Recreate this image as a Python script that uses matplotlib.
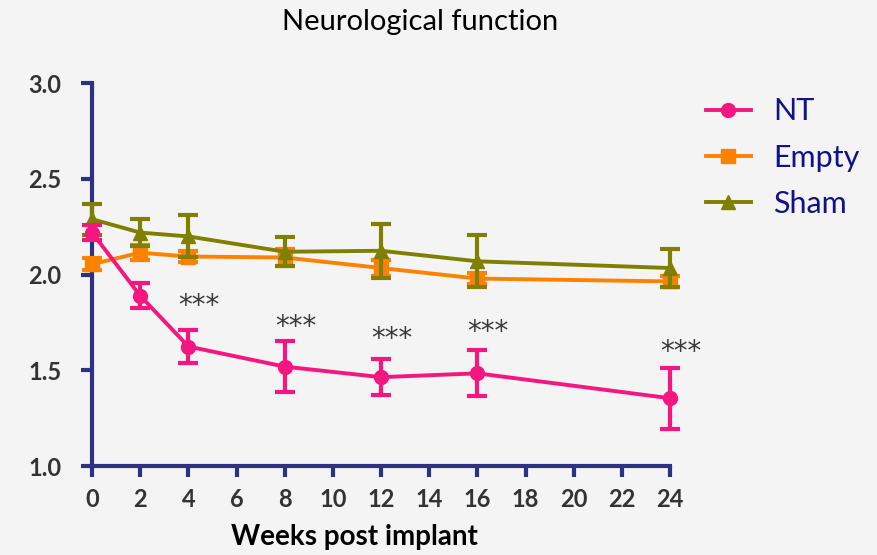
import numpy as np
import matplotlib.pyplot as plt

weeks = [0, 2, 4, 8, 12, 16, 24]

nt_mean = [2.22, 1.89, 1.625, 1.52, 1.465, 1.485, 1.355]
nt_err = [0.04, 0.065, 0.085, 0.135, 0.095, 0.12, 0.16]

empty_mean = [2.055, 2.115, 2.095, 2.09, 2.035, 1.98, 1.965]
empty_err = [0.03, 0.04, 0.03, 0.045, 0.04, 0.03, 0.03]

sham_mean = [2.29, 2.22, 2.2, 2.12, 2.125, 2.07, 2.035]
sham_err = [0.08, 0.07, 0.11, 0.075, 0.14, 0.135, 0.1]

star_weeks = [4, 8, 12, 16, 24]
star_y = [1.87, 1.76, 1.70, 1.735, 1.63]

navy = "#2e3181"
c_nt = "#f5167f"
c_empty = "#ff8100"
c_sham = "#7f7f00"

plt.rcParams["font.family"] = ["Lato", "DejaVu Sans"]

fig = plt.figure(figsize=(8.77, 5.55), dpi=100)
fig.patch.set_facecolor("#f4f4f4")
ax = fig.add_axes([0.105, 0.16, 0.659, 0.69])
ax.set_facecolor("none")

common = dict(lw=2.8, elinewidth=3, capsize=7, capthick=3, clip_on=False)
ax.errorbar(weeks, empty_mean, yerr=empty_err, color=c_empty, marker="s",
            ms=10, label="Empty", zorder=3, **common)
ax.errorbar(weeks, sham_mean, yerr=sham_err, color=c_sham, marker="^",
            ms=10, label="Sham", zorder=4, **common)
ax.errorbar(weeks, nt_mean, yerr=nt_err, color=c_nt, marker="o",
            ms=10, label="NT", zorder=5, **common)

# significance marks, lowered a bit since the glyph sits high in its box
for w, y in zip(star_weeks, star_y):
    ax.text(w + 0.45, y - 0.035, "***", ha="center", va="center", fontsize=20,
            color="#3a3a3a", family="DejaVu Sans")

ax.set_xlim(0, 24)
ax.set_ylim(1, 3)
ax.set_xticks(np.arange(0, 25, 2))
ax.set_yticks([1.0, 1.5, 2.0, 2.5, 3.0])
ax.set_yticklabels(["1.0", "1.5", "2.0", "2.5", "3.0"])

for s in ["top", "right"]:
    ax.spines[s].set_visible(False)
for s in ["left", "bottom"]:
    ax.spines[s].set_color(navy)
    ax.spines[s].set_linewidth(3)
ax.tick_params(colors=navy, width=3, length=8, direction="out")
ax.tick_params(labelcolor="#333333", labelsize=17)
for lab in ax.get_xticklabels() + ax.get_yticklabels():
    lab.set_fontweight("bold")
ax.tick_params(axis="y", pad=14)
ax.tick_params(axis="x", pad=8)

fig.text(0.404, 0.032, "Weeks post implant", ha="center", va="center",
         fontsize=20, fontweight="bold", color="black")
fig.text(0.4795, 0.96, "Neurological function", ha="center", va="center",
         fontsize=21, color="black")

handles, labels = ax.get_legend_handles_labels()
order = [2, 0, 1]
handles = [h[0] for h in handles]
leg = ax.legend([handles[i] for i in order], [labels[i] for i in order],
                loc="upper left", bbox_to_anchor=(1.015, 1.035), frameon=False,
                fontsize=22, handlelength=1.45, labelspacing=0.6,
                handletextpad=0.75)
for t in leg.get_texts():
    t.set_color("#11118a")

fig.savefig("out.png", dpi=100, facecolor=fig.get_facecolor())
